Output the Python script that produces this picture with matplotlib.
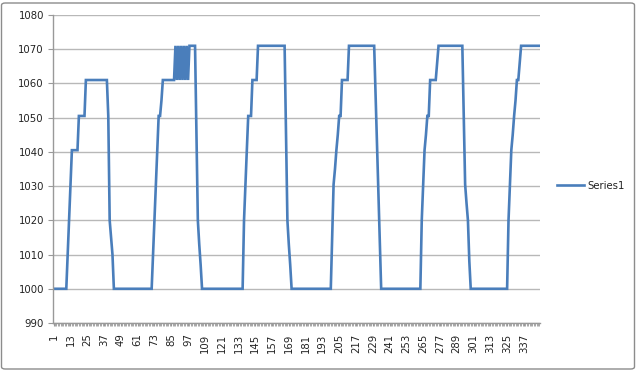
import matplotlib.pyplot as plt
import numpy as np
from matplotlib.patches import FancyBboxPatch

# run-length: level and how many categories it holds
levels = [
    1000, 1010, 1020, 1030.5, 1040.5, 1050.5, 1061, 1050.5, 1020, 1015, 1010,
    1000, 1010, 1020, 1030.5, 1040.5, 1050.5, 1055, 1061,
    1071, 1061, 1071, 1061, 1071, 1061, 1071, 1061, 1071, 1061,
    1071, 1045, 1020, 1013, 1007,
    1000, 1020, 1030.5, 1040.5, 1050.5, 1061, 1071, 1045, 1020, 1013, 1007,
    1000, 1015, 1030.5, 1035, 1040.5, 1045, 1050.5, 1061, 1071, 1057, 1043, 1029, 1015,
    1000, 1020, 1030.5, 1040.5, 1045, 1050.5, 1061, 1066, 1071, 1050, 1030.5, 1025, 1020, 1008,
    1000, 1020, 1030.5, 1040.5, 1045, 1050.5, 1055, 1061, 1066, 1071,
]
repeats = [
    10, 1, 1, 1, 5, 5, 16, 1, 1, 1, 1,
    28, 1, 1, 1, 1, 2, 1, 9,
    1, 1, 1, 1, 1, 1, 1, 1, 1, 1,
    5, 1, 1, 1, 1,
    30, 1, 1, 1, 3, 4, 20, 1, 1, 1, 1,
    29, 1, 1, 1, 1, 1, 2, 5, 19, 1, 1, 1, 1,
    29, 1, 1, 1, 1, 2, 5, 1, 18, 1, 1, 1, 1, 1,
    27, 1, 1, 1, 1, 1, 1, 2, 1, 14,
]
series1 = np.repeat(levels, repeats)
categories = np.arange(1, len(series1) + 1)
tick_labels = list(range(1, len(series1) + 1, 12))
y_ticks = list(range(990, 1081, 10))

txt = "#222222"
fs = 7.3

fig = plt.figure(figsize=(6.4, 3.72), dpi=100)
ax = fig.add_axes([53 / 640, 1 - 323 / 372, 487 / 640, 308 / 372])

ax.plot(categories, series1, color="#4a7ebb", lw=1.9, label="Series1",
        solid_joinstyle="miter")

ax.set_xlim(0.5, len(series1) + 0.5)
ax.set_ylim(990, 1080)
ax.set_yticks(y_ticks)
ax.set_xticks(tick_labels)
ax.set_xticks(categories, minor=True)
ax.set_xticklabels([str(t) for t in tick_labels], rotation=90)

ax.grid(axis="y", color="#b8b8b8", lw=1.0)
ax.set_axisbelow(True)
for side in ["top", "right"]:
    ax.spines[side].set_visible(False)
for side in ["left", "bottom"]:
    ax.spines[side].set_color("#999999")
    ax.spines[side].set_linewidth(1.0)

ax.tick_params(axis="y", length=3.5, color="#999999", labelsize=fs, labelcolor=txt, pad=3)
ax.tick_params(axis="x", which="both", length=2.5, color="#999999", labelsize=fs,
               labelcolor=txt, pad=5)

fig.legend(loc="center left", bbox_to_anchor=(557 / 640, 1 - 186 / 372),
           frameon=False, fontsize=fs, handlelength=2.7, handletextpad=0.25,
           borderpad=0, borderaxespad=0, labelcolor=txt)

# chart border
fig.patches.append(FancyBboxPatch((1.5 / 640, 3 / 372), 633 / 640, 366 / 372,
                                  boxstyle="round,pad=0,rounding_size=0.006",
                                  transform=fig.transFigure, fill=False,
                                  edgecolor="#8c8c8c", lw=1.0))

fig.savefig("out.png", dpi=100)
